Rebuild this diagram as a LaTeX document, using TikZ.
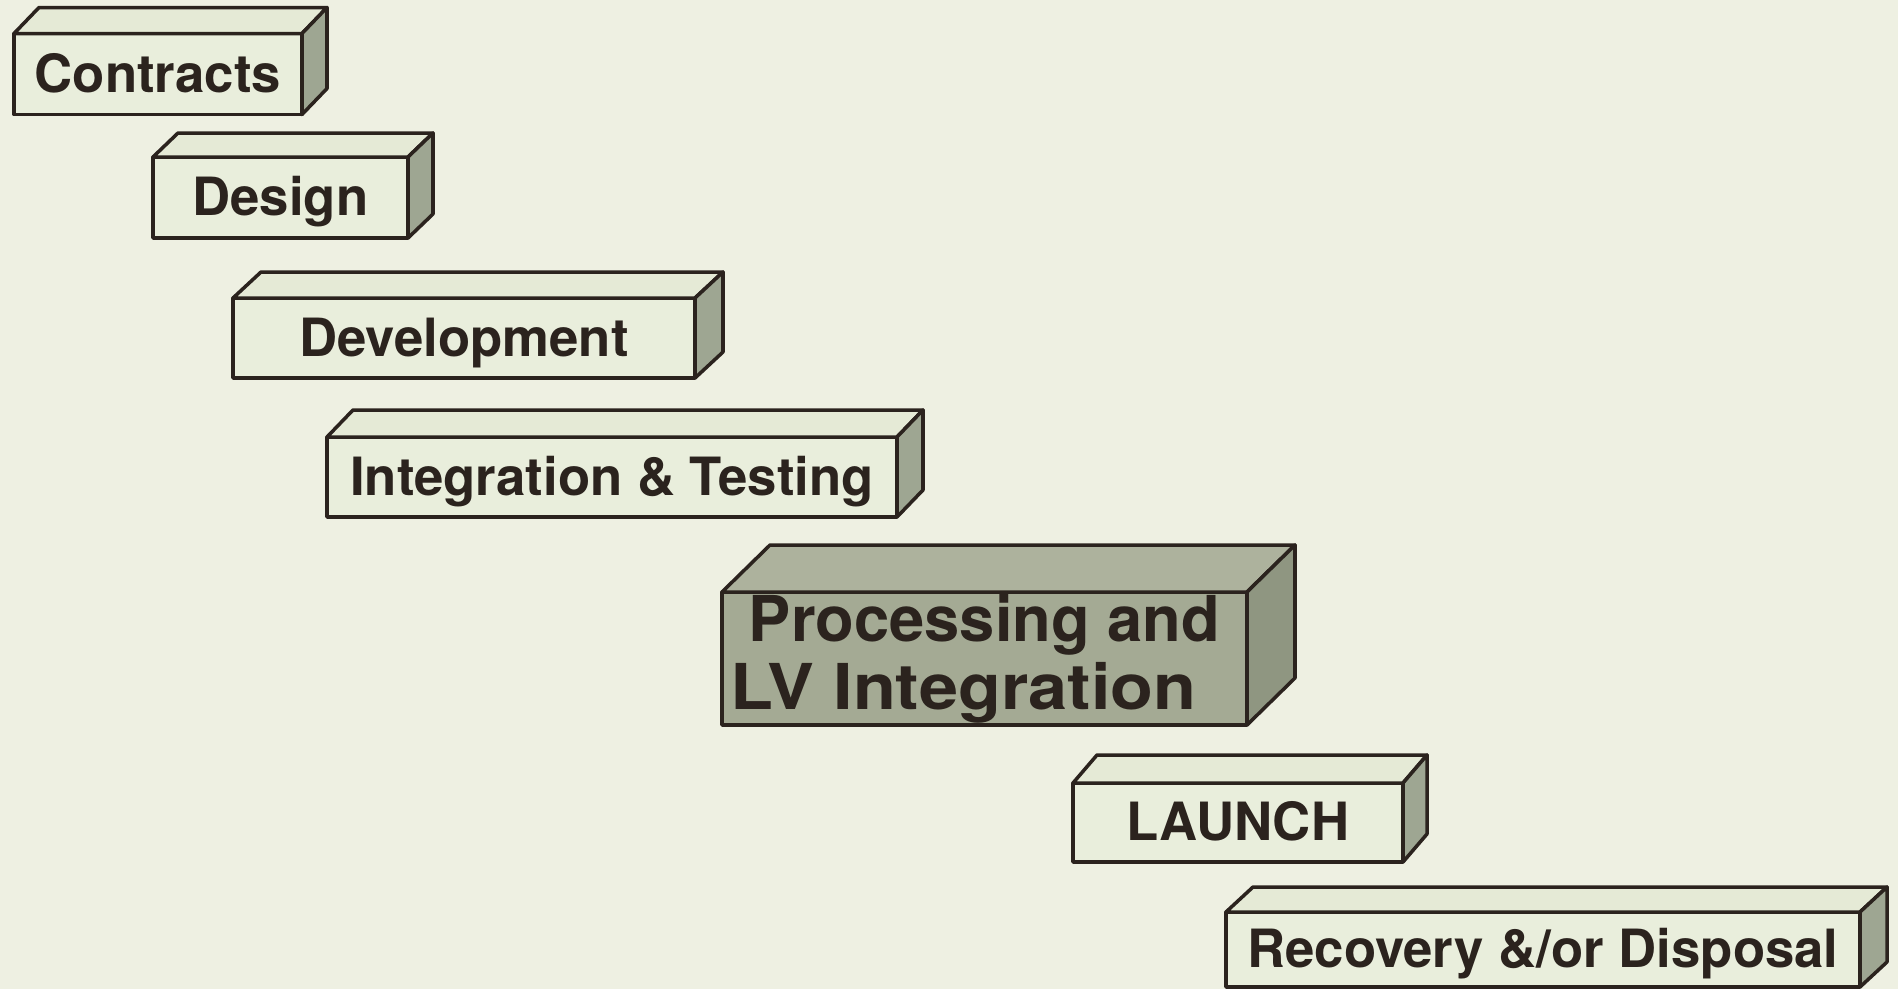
\documentclass[tikz,border=0pt]{standalone}
\usepackage{fontspec}
\setmainfont{TeX Gyre Heros}
\usepackage{graphicx}
\usepackage{tikz}

\definecolor{paper}{HTML}{EEF0E2}
\definecolor{boxfront}{HTML}{E9EEDC}
\definecolor{boxtop}{HTML}{E5EAD6}
\definecolor{boxside}{HTML}{9EA692}
\definecolor{procfront}{HTML}{A4AA94}
\definecolor{proctop}{HTML}{ADB29D}
\definecolor{procside}{HTML}{8F9681}
\definecolor{ink}{HTML}{2B231E}

\begin{document}
\begin{tikzpicture}[line width=1pt, line join=round, draw=ink,
    face/.style={draw=ink, fill=boxfront, text=ink, outer sep=0pt, inner sep=0pt,
      font=\bfseries\fontsize{15}{18}\selectfont},
    slab/.style={face, text height=0.46cm, text depth=0.1cm},
    bigslab/.style={face, fill=procfront, align=center,
      font=\bfseries\fontsize{18}{19.4}\selectfont}]
  \useasboundingbox (0,0) rectangle (18.98,-9.89);
  \fill[paper] (0,0) rectangle (18.98,-9.89);

  \node[slab, minimum width=2.88cm, minimum height=0.81cm] (contracts) at (1.58,-0.74) {Contracts};
  \node[slab, minimum width=2.55cm, minimum height=0.81cm] (design) at (2.805,-1.975) {Design};
  \node[slab, minimum width=4.62cm, minimum height=0.80cm] (devel) at (4.64,-3.38) {Development};
  \node[slab, minimum width=5.70cm, minimum height=0.80cm] (inttest) at (6.12,-4.77) {Integration \& Testing};
  \node[bigslab, minimum width=5.25cm, minimum height=1.33cm] (proc) at (9.845,-6.585) {Processing and\\\scalebox{1.11}[1]{LV Integration}\kern0.42cm};
  \node[slab, minimum width=3.30cm, minimum height=0.79cm] (launch) at (12.38,-8.225) {LAUNCH};
  \node[slab, minimum width=6.34cm, minimum height=0.75cm] (recov) at (15.43,-9.495) {Recovery \&/or Disposal};

  \foreach \n/\dx/\dy/\tc/\sc in {contracts/0.25/0.26/boxtop/boxside,
      design/0.25/0.24/boxtop/boxside, devel/0.28/0.26/boxtop/boxside,
      inttest/0.26/0.27/boxtop/boxside, proc/0.48/0.47/proctop/procside,
      launch/0.24/0.28/boxtop/boxside, recov/0.27/0.25/boxtop/boxside}
  {
    \filldraw[fill=\tc] (\n.north west) -- ++(\dx,\dy) -- ([shift={(\dx,\dy)}]\n.north east) -- (\n.north east) -- cycle;
    \filldraw[fill=\sc] (\n.north east) -- ++(\dx,\dy) -- ([shift={(\dx,\dy)}]\n.south east) -- (\n.south east) -- cycle;
  }
\end{tikzpicture}
\end{document}
